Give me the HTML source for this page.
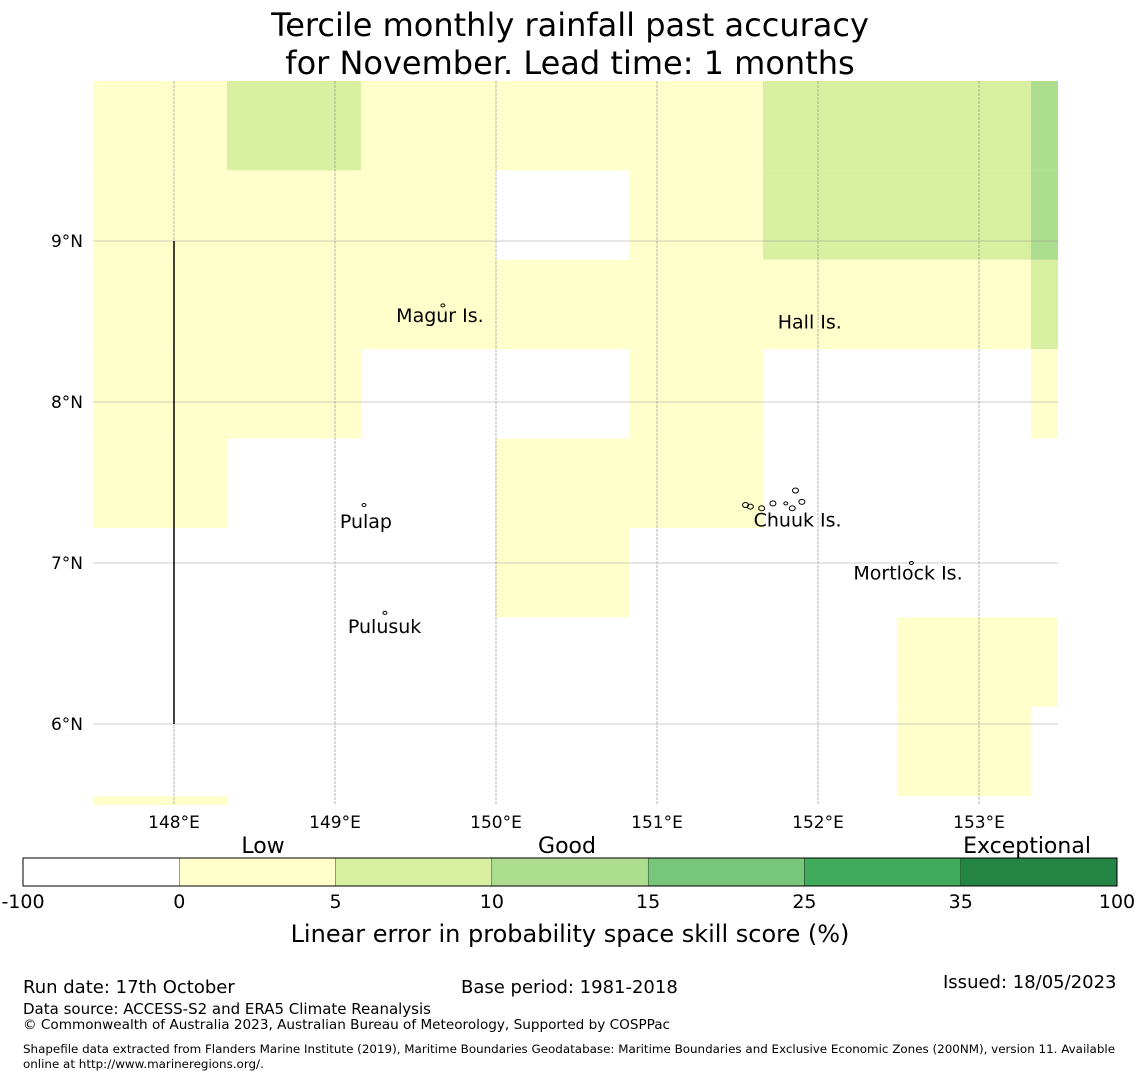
<!DOCTYPE html>
<html><head><meta charset="utf-8">
<style>
body{margin:0;background:#fff;font-family:"DejaVu Sans","Liberation Sans",sans-serif;}
#wrap{position:relative;width:1140px;height:1080px;overflow:hidden;}
.t{position:absolute;white-space:nowrap;color:#000;}
</style></head>
<body>
<div id="wrap">
<div class="t" style="left:0;width:1140px;top:6px;text-align:center;font-size:32px;line-height:38px;">Tercile monthly rainfall past accuracy<br>for November. Lead time: 1 months</div>
<svg id="map" width="1140" height="1080" style="position:absolute;left:0;top:0"></svg>
<div class="t" style="left:23px;top:977px;font-size:18px;">Run date: 17th October</div>
<div class="t" style="left:461px;top:977px;font-size:18px;">Base period: 1981-2018</div>
<div class="t" style="left:943px;top:972px;font-size:18px;">Issued: 18/05/2023</div>
<div class="t" style="left:23px;top:1000px;font-size:15px;">Data source: ACCESS-S2 and ERA5 Climate Reanalysis</div>
<div class="t" style="left:23px;top:1017px;font-size:13.6px;">© Commonwealth of Australia 2023, Australian Bureau of Meteorology, Supported by COSPPac</div>
<div class="t" style="left:23px;top:1042px;font-size:11.9px;line-height:15px;">Shapefile data extracted from Flanders Marine Institute (2019), Maritime Boundaries Geodatabase: Maritime Boundaries and Exclusive Economic Zones (200NM), version 11. Available<br>online at http://www.marineregions.org/.</div>
</div>
<script>
const gridValues = [
 [2,7,2,2,2,7,7,12],
 [2,2,2,-5,2,7,7,12],
 [2,2,2,2,2,2,2,7],
 [2,2,-5,-5,2,-5,-5,2],
 [2,-5,-5,2,2,-5,-5,-5],
 [-5,-5,-5,2,-5,-5,-5,-5],
 [-5,-5,-5,-5,-5,-5,2,2],
 [-5,-5,-5,-5,-5,-5,2,-5],
 [2,-5,-5,-5,-5,-5,-5,-5]
];
const lonTicks = [148,149,150,151,152,153];
const latTicks = [9,8,7,6];
const cbBounds = ["-100","0","5","10","15","25","35","100"];
const cbColors = ["#ffffff","#ffffcc","#d9f0a3","#addd8e","#78c679","#41ab5d","#238443"];
const cbThresholds = [0,5,10,15,25,35];
const islands = [
 {name:"Magur Is.",lon:149.67,lat:8.6,lx:149.38,ly:8.54},
 {name:"Hall Is.",lon:0,lat:0,lx:151.75,ly:8.5},
 {name:"Pulap",lon:149.18,lat:7.36,lx:149.03,ly:7.26},
 {name:"Pulusuk",lon:149.31,lat:6.69,lx:149.08,ly:6.61},
 {name:"Chuuk Is.",lon:151.8,lat:7.37,lx:151.6,ly:7.27},
 {name:"Mortlock Is.",lon:152.58,lat:7.0,lx:152.22,ly:6.94}
];
const NS="http://www.w3.org/2000/svg";
const svg=document.getElementById('map');
const X=lon=>174+(lon-148)*161;
const Y=lat=>241-(lat-9)*161;
const x0=93,x1=1058,y0=81,y1=805,cw=134,ch=89.4;
function mk(tag,attrs,parent){const e=document.createElementNS(NS,tag);for(const k in attrs)e.setAttribute(k,attrs[k]);(parent||svg).appendChild(e);return e;}
function color(v){let i=0;while(i<cbThresholds.length&&v>=cbThresholds[i])i++;return cbColors[i];}
gridValues.forEach((row,r)=>row.forEach((v,c)=>{
 const x=x0+c*cw,y=y0+r*ch;
 const w=Math.min(cw,x1-x),h=Math.min(ch,y1-y);
 const el=mk('rect',{x:x,y:y,width:w,height:h,fill:color(v)});
 
 
}));
lonTicks.forEach(l=>{
 const ln=mk('line',{x1:X(l),x2:X(l),y1:y0,y2:y1,stroke:'#888','stroke-width':0.6,'stroke-dasharray':'3,1'});
 
 const t=mk('text',{x:X(l),y:828,'font-size':17,'text-anchor':'middle','font-family':'DejaVu Sans,Liberation Sans,sans-serif'});
 t.textContent=l+'°E';
});
latTicks.forEach(l=>{
 const ln=mk('line',{x1:x0,x2:x1,y1:Y(l),y2:Y(l),stroke:'#999','stroke-width':0.6});
 
 const t=mk('text',{x:83,y:Y(l)+6,'font-size':17,'text-anchor':'end','font-family':'DejaVu Sans,Liberation Sans,sans-serif'});
 t.textContent=l+'°N';
});
const bl=mk('line',{x1:X(148),x2:X(148),y1:Y(9),y2:Y(6),stroke:'#000','stroke-width':1.5});

islands.forEach(is=>{
 if(is.lon){
 const p=mk('ellipse',{cx:X(is.lon),cy:Y(is.lat),rx:2,ry:1.5,fill:'none',stroke:'#000','stroke-width':1});
 
 }
 const t=mk('text',{x:X(is.lx),y:Y(is.ly)+7,'font-size':19,'font-family':'DejaVu Sans,Liberation Sans,sans-serif'});
 t.textContent=is.name;
});
[[151.58,7.35],[151.65,7.34],[151.72,7.37],[151.86,7.45],[151.9,7.38],[151.84,7.34],[151.55,7.36]].forEach(p=>{
 const e=mk('ellipse',{cx:X(p[0]),cy:Y(p[1]),rx:3,ry:2.5,fill:'none',stroke:'#000','stroke-width':1});
 
});
const cbx=23,cby=858,cbw=1094,cbh=28,seg=cbw/cbColors.length;
cbColors.forEach((c,i)=>{
 const r=mk('rect',{x:cbx+i*seg,y:cby,width:seg,height:cbh,fill:c,stroke:'#000','stroke-width':0.3});
 
});
const cbo=mk('rect',{x:cbx,y:cby,width:cbw,height:cbh,fill:'none',stroke:'#000','stroke-width':1});

cbBounds.forEach((b,i)=>{
 const t=mk('text',{x:cbx+i*seg,y:908,'font-size':19,'text-anchor':'middle','font-family':'DejaVu Sans,Liberation Sans,sans-serif'});
 t.textContent=b;
});
[["Low",263],["Good",567],["Exceptional",1027]].forEach(a=>{
 const t=mk('text',{x:a[1],y:853,'font-size':22,'text-anchor':'middle','font-family':'DejaVu Sans,Liberation Sans,sans-serif'});
 t.textContent=a[0];
});
const ct=mk('text',{x:570,y:942,'font-size':24,'text-anchor':'middle','font-family':'DejaVu Sans,Liberation Sans,sans-serif'});
ct.textContent='Linear error in probability space skill score (%)';

</script>
</body></html>
